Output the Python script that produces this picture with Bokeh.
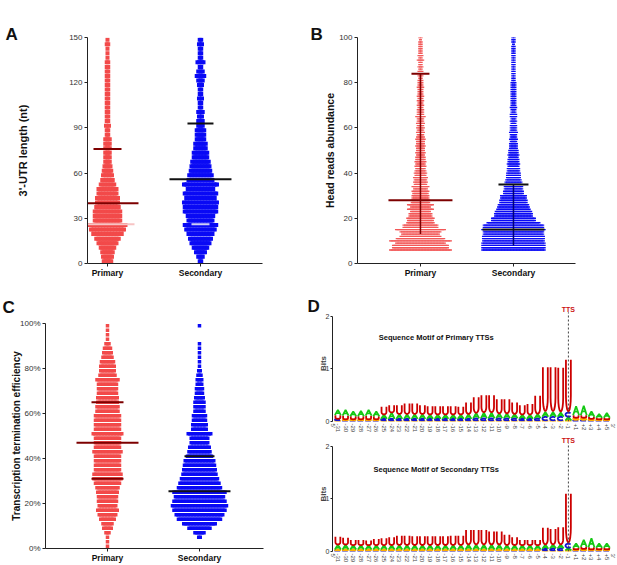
import numpy as np
from bokeh.plotting import figure
from bokeh.models import FixedTicker, Label, Range1d, Title
from bokeh.layouts import row, column
from bokeh.embed import file_html
from bokeh.resources import INLINE

FONT = "Liberation Sans"
RED = "#f24a4a"
BLUE = "#0a0af5"
DARKRED = "#7d0000"
BLACK = "#111111"
NAVY = "#00007a"

categories = ["Primary", "Secondary"]

# ---------------- Panel A : 3'-UTR length (3-nt bins) ----------------
a_bins = [1.5, 4.5, 7.5, 10.5, 13.5, 16.5, 19.5, 22.5, 25.5, 28.5,
          31.5, 34.5, 37.5, 40.5, 43.5, 46.5, 49.5, 52.5, 55.5, 58.5,
          61.5, 64.5, 67.5, 70.5, 73.5, 76.5, 79.5, 82.5, 85.5, 88.5,
          91.5, 94.5, 97.5, 100.5, 103.5, 106.5, 109.5, 112.5, 115.5, 118.5,
          121.5, 124.5, 127.5, 130.5, 133.5, 136.5, 139.5, 142.5, 145.5, 148.5]
a_primary_counts = [6, 7, 8, 10, 13, 16, 20, 23, 25, 18,
                    18, 18, 16, 15, 15, 13, 13, 10, 8, 7,
                    6, 5, 4, 4, 4, 4, 4, 4, 2, 2,
                    3, 2, 2, 2, 2, 2, 2, 2, 2, 2,
                    2, 2, 2, 2, 2, 1, 1, 1, 2, 1]
a_secondary_counts = [2, 4, 7, 10, 13, 15, 17, 20, 22, 17,
                      18, 22, 22, 23, 20, 22, 18, 23, 17, 16,
                      14, 13, 12, 10, 10, 8, 8, 6, 6, 6,
                      4, 4, 3, 4, 2, 2, 3, 2, 2, 3,
                      4, 6, 4, 2, 5, 2, 2, 2, 3, 2]
a_primary_stats = [40, 76, 26]     # median, upper, lower
a_secondary_stats = [56, 93, 26]

# ---------------- Panel B : head reads abundance (integer rows) ----------------
b_values = list(range(6, 101))
b_primary_counts = [41, 37, 37, 33, 41, 32, 27, 25, 27, 33, 23, 23, 18, 17, 18, 15, 15, 13, 17, 13,
                    17, 12, 12, 11, 11, 10, 11, 9, 11, 8, 9, 8, 9, 7, 8,
                    7, 6, 7, 6, 7, 6, 6, 5, 6, 5, 5, 6, 5, 5, 6, 5, 4, 5, 4, 5,
                    4, 5, 4, 4, 6, 4, 4, 4, 3, 4, 3, 4, 3, 4, 3, 3, 3, 4, 3, 3,
                    3, 2, 3, 2, 3, 2, 3, 2, 2, 4, 2, 3, 2, 2, 2, 2, 2, 2, 1, 2]
b_secondary_counts = [42, 42, 42, 42, 41, 41, 41, 40, 40, 42, 40, 40, 35, 29, 29, 25, 25, 24, 22, 21,
                      20, 18, 18, 17, 17, 13, 13, 12, 12, 11, 11, 10, 9, 9, 9,
                      8, 8, 7, 8, 7, 7, 6, 7, 6, 6, 5, 5, 5, 4, 5, 4, 4, 5, 4, 4,
                      4, 3, 4, 3, 4, 4, 3, 3, 4, 3, 3, 3, 3, 3, 3, 3, 3, 3, 3, 3,
                      2, 2, 2, 2, 2, 2, 2, 2, 2, 2, 2, 2, 2, 2, 2, 2, 1, 2, 2, 2]
b_primary_stats = [28, 84, 13]
b_secondary_stats = [15, 35, 8]

# ---------------- Panel C : termination efficiency (2 % bins) ----------------
c_bins = [1, 3, 5, 7, 9, 11, 13, 15, 17, 19, 21, 23, 25, 27, 29, 31, 33, 35, 37, 39,
          41, 43, 45, 47, 49, 51, 53, 55, 57, 59, 61, 63, 65, 67, 69, 71, 73, 75, 77, 79,
          81, 83, 85, 87, 89, 91, 93, 95, 97, 99]
c_primary_counts = [1, 1, 1, 3, 6, 7, 10, 12, 14, 12,
                    13, 13, 14, 15, 17, 19, 19, 17, 17, 17,
                    17, 19, 17, 17, 17, 20, 17, 17, 17, 17,
                    15, 15, 14, 14, 13, 13, 13, 15, 11, 10,
                    10, 9, 7, 6, 5, 3, 1, 1, 1, 1]
c_secondary_counts = [0, 0, 2, 7, 15, 22, 29, 32, 35, 37,
                      35, 33, 35, 29, 27, 25, 23, 22, 21, 20,
                      17, 15, 14, 12, 12, 16, 10, 10, 9, 9,
                      7, 7, 7, 6, 5, 5, 4, 4, 3, 2,
                      1, 1, 1, 1, 1, 1, 0, 0, 0, 1]
c_primary_stats = [47, 65, 31]
c_secondary_stats = [25.5, 41]

# ---------------- Panel D : sequence logos (bits) ----------------
d_positions = ["-31", "-30", "-29", "-28", "-27", "-26", "-25", "-24", "-23", "-22",
               "-21", "-20", "-19", "-18", "-17", "-16", "-15", "-14", "-13", "-12",
               "-11", "-10", "-9", "-8", "-7", "-6", "-5", "-4", "-3", "-2", "-1",
               "+1", "+2", "+3", "+4", "+5"]
prim_U = [0.07, 0.07, 0.06, 0.06, 0.07, 0.06, 0.15, 0.14, 0.17, 0.20, 0.20, 0.17, 0.16, 0.16, 0.16, 0.16,
          0.15, 0.22, 0.30, 0.33, 0.33, 0.27, 0.27, 0.22, 0.18, 0.20, 0.35, 0.85, 0.85, 0.85, 1.00,
          0.05, 0.05, 0.04, 0.03, 0.03]
prim_A = [0.10, 0.11, 0.09, 0.10, 0.11, 0.09, 0.08, 0.12, 0.09, 0.09, 0.09, 0.09, 0.08, 0.08, 0.08, 0.08,
          0.08, 0.09, 0.10, 0.11, 0.11, 0.09, 0.09, 0.08, 0.08, 0.08, 0.08, 0.09, 0.09, 0.08, 0.07,
          0.17, 0.18, 0.10, 0.07, 0.09]
prim_C = [0.03, 0.02, 0.02, 0.02, 0.02, 0.02, 0.03, 0.03, 0.03, 0.03, 0.03, 0.03, 0.03, 0.03, 0.03, 0.03,
          0.03, 0.03, 0.04, 0.04, 0.04, 0.04, 0.04, 0.04, 0.03, 0.03, 0.04, 0.07, 0.07, 0.07, 0.08,
          0.03, 0.03, 0.02, 0.02, 0.02]
prim_G = [0.02, 0.02, 0.02, 0.02, 0.02, 0.02, 0.02, 0.02, 0.02, 0.02, 0.02, 0.02, 0.02, 0.02, 0.02, 0.02,
          0.02, 0.02, 0.02, 0.02, 0.02, 0.02, 0.02, 0.02, 0.02, 0.02, 0.02, 0.02, 0.02, 0.02, 0.02,
          0.04, 0.04, 0.03, 0.02, 0.02]
sec_U = [0.15, 0.13, 0.10, 0.10, 0.09, 0.12, 0.13, 0.15, 0.18, 0.18, 0.17, 0.17, 0.17, 0.17, 0.17, 0.18,
         0.18, 0.28, 0.28, 0.28, 0.25, 0.25, 0.20, 0.15, 0.10, 0.10, 0.10, 0.32, 0.30, 0.33, 0.95,
         0.03, 0.04, 0.04, 0.03, 0.03]
sec_A = [0.09, 0.09, 0.08, 0.08, 0.08, 0.08, 0.08, 0.08, 0.08, 0.08, 0.08, 0.08, 0.08, 0.08, 0.08, 0.08,
         0.08, 0.09, 0.09, 0.09, 0.09, 0.09, 0.08, 0.08, 0.08, 0.08, 0.08, 0.08, 0.07, 0.07, 0.05,
         0.08, 0.13, 0.17, 0.08, 0.08]
sec_C = [0.02, 0.02, 0.02, 0.02, 0.02, 0.02, 0.02, 0.02, 0.02, 0.02, 0.02, 0.02, 0.02, 0.02, 0.02, 0.02,
         0.02, 0.02, 0.02, 0.02, 0.02, 0.02, 0.02, 0.02, 0.02, 0.02, 0.02, 0.03, 0.04, 0.04, 0.08,
         0.02, 0.02, 0.02, 0.02, 0.02]
sec_G = [0.02, 0.02, 0.02, 0.02, 0.02, 0.02, 0.02, 0.02, 0.02, 0.02, 0.02, 0.02, 0.02, 0.02, 0.02, 0.02,
         0.02, 0.02, 0.02, 0.02, 0.02, 0.02, 0.02, 0.02, 0.02, 0.02, 0.02, 0.02, 0.02, 0.02, 0.02,
         0.02, 0.03, 0.02, 0.02, 0.02]
tts_position = "-1"

for arr, ref in [(a_primary_counts, a_bins), (a_secondary_counts, a_bins),
                 (b_primary_counts, b_values), (b_secondary_counts, b_values),
                 (c_primary_counts, c_bins), (c_secondary_counts, c_bins)]:
    assert len(arr) == len(ref), (len(arr), len(ref))
for arr in [prim_U, prim_A, prim_C, prim_G, sec_U, sec_A, sec_C, sec_G]:
    assert len(arr) == len(d_positions)


# ---------------- helpers ----------------
def style_axes(p, tick_size="8px"):
    p.xgrid.visible = False
    p.ygrid.visible = False
    p.outline_line_color = None
    for ax in (p.xaxis[0], p.yaxis[0]):
        ax.axis_line_color = "#222222"
        ax.major_tick_line_color = "#222222"
        ax.minor_tick_line_color = None
        ax.major_tick_in = 0
        ax.major_tick_out = 3
        ax.minor_tick_out = 0
        ax.major_label_text_font = FONT
        ax.axis_label_text_font = FONT
    p.yaxis.major_label_text_font_size = tick_size
    p.yaxis.major_label_text_color = "#333333"
    p.yaxis.major_label_standoff = 2


def swarm_fig(width, height, bl, br, bt, bb, xr, yr, yticks, ylab, ylab_size, ylab_standoff, overrides=None):
    p = figure(width=width, height=height, x_range=Range1d(*xr), y_range=Range1d(*yr),
               output_backend="svg", toolbar_location=None,
               min_border_left=bl, min_border_right=br, min_border_top=bt, min_border_bottom=bb)
    style_axes(p)
    p.xaxis.ticker = FixedTicker(ticks=[1, 2])
    p.xaxis.major_label_overrides = {1: categories[0], 2: categories[1]}
    p.xaxis.major_label_text_font_size = "8.5px"
    p.xaxis.major_label_text_font_style = "bold"
    p.xaxis.major_label_text_color = "#111111"
    p.xaxis.major_label_standoff = 1
    p.yaxis.ticker = FixedTicker(ticks=yticks)
    if overrides:
        p.yaxis.major_label_overrides = overrides
    p.yaxis.axis_label = ylab
    p.yaxis.axis_label_text_font_size = ylab_size
    p.yaxis.axis_label_text_font_style = "bold"
    p.yaxis.axis_label_text_color = "#111111"
    p.yaxis.axis_label_standoff = ylab_standoff
    return p


def swarm(p, center, bins, counts, dx, color, marker, size, lw=1.5):
    xs, ys = [], []
    for v, n in zip(bins, counts):
        for j in range(n):
            xs.append(center + (j - (n - 1) / 2.0) * dx)
            ys.append(v)
    if marker == "dash":
        p.scatter(xs, ys, marker="dash", size=size, line_color=color, line_width=lw)
    else:
        p.scatter(xs, ys, marker="square", size=size, fill_color=color, line_color=None)


def hlines(p, center, vals, half_px, colors, ppu, lw=2):
    x0 = [center - h / ppu for h in half_px]
    x1 = [center + h / ppu for h in half_px]
    p.segment(x0=x0, y0=vals, x1=x1, y1=vals, line_color=colors, line_width=lw)


def letter_title(p, txt, offset, standoff, valign="bottom"):
    # panel letter drawn as a left-aligned title, nudged by its standoff
    p.add_layout(Title(text=txt, align="left", offset=offset, text_font=FONT, text_font_style="bold",
                       text_font_size="17px", text_color="#111111", standoff=standoff,
                       vertical_align=valign), "above")


# ---------------- Panel A ----------------
PPU_A = 93.0
pA = swarm_fig(300, 290, 87, 38, 37, 27, (0.785, 2.667), (0, 150), [0, 30, 60, 90, 120, 150],
               "3'-UTR length (nt)", "11px", 37)
swarm(pA, 1, a_bins, a_primary_counts, 1.5 / PPU_A, RED, "square", 4)
swarm(pA, 2, a_bins, a_secondary_counts, 1.5 / PPU_A, BLUE, "square", 4)
hlines(pA, 1, a_primary_stats, [31, 14, 27], [DARKRED, DARKRED, "#f7c4c4"], PPU_A)
hlines(pA, 2, a_secondary_stats, [31, 13, 9], [BLACK, BLACK, "#cfcff5"], PPU_A)
letter_title(pA, "A", -82, -12)

# ---------------- Panel B ----------------
PPU_B = 93.0
pB = swarm_fig(317, 290, 57, 42, 37, 27, (0.323, 2.667), (0, 100), [0, 20, 40, 60, 80, 100],
               "Head reads abundance", "10.5px", 0)
swarm(pB, 1, b_values, b_primary_counts, 1.5 / PPU_B, "#f25858", "dash", 3, 1.4)
swarm(pB, 2, b_values, b_secondary_counts, 1.5 / PPU_B, BLUE, "dash", 3, 1.4)
pB.segment(x0=[1], y0=[b_primary_stats[2]], x1=[1], y1=[b_primary_stats[1]], line_color=DARKRED, line_width=1.5)
pB.segment(x0=[2], y0=[b_secondary_stats[2]], x1=[2], y1=[b_secondary_stats[1]], line_color=NAVY, line_width=1.5)
hlines(pB, 1, b_primary_stats[:2], [32, 9], [DARKRED, DARKRED], PPU_B)
hlines(pB, 2, b_secondary_stats[:2], [31, 15], [BLACK, BLACK], PPU_B)
letter_title(pB, "B", -47, -12)

# ---------------- Panel C ----------------
PPU_C = 92.0
pC = swarm_fig(300, 275, 45, 37, 33, 17, (0.326, 2.696), (0, 100), [0, 20, 40, 60, 80, 100],
               "Transcription termination efficiency", "10px", -5,
               overrides={0: "0%", 20: "20%", 40: "40%", 60: "60%", 80: "80%", 100: "100%"})
swarm(pC, 1, c_bins, c_primary_counts, 1.5 / PPU_C, RED, "square", 3.5)
swarm(pC, 2, c_bins, c_secondary_counts, 1.5 / PPU_C, BLUE, "square", 3.5)
hlines(pC, 1, c_primary_stats, [31, 16, 16], [DARKRED, DARKRED, DARKRED], PPU_C)
hlines(pC, 2, c_secondary_stats, [31, 15], [BLACK, BLACK], PPU_C)
letter_title(pC, "C", -43, 10, valign="top")

# ---------------- Panel D ----------------
_t1 = np.linspace(np.pi, 2 * np.pi, 10)
_t2 = np.linspace(np.radians(40), np.radians(320), 16)
LETTER_SHAPES = {
    "U": [[(0.12, 1.0), (0.12, 0.32)] + [(0.5 + 0.38 * np.cos(t), 0.32 + 0.3 * np.sin(t)) for t in _t1]
          + [(0.88, 0.32), (0.88, 1.0)]],
    "A": [[(0.04, 0.0), (0.5, 1.0), (0.96, 0.0)], [(0.25, 0.4), (0.75, 0.4)]],
    "C": [[(0.5 + 0.45 * np.cos(t), 0.5 + 0.48 * np.sin(t)) for t in _t2]],
    "G": [[(0.5 + 0.45 * np.cos(t), 0.5 + 0.48 * np.sin(t)) for t in _t2]
          + [(0.95, 0.45), (0.6, 0.45)]],
}
LETTER_COLORS = {"U": "#cc0000", "A": "#14c814", "C": "#1414d2", "G": "#ffb000"}


def logo_fig(height, bt, bb, ytop, hU, hA, hC, hG, title, title_y, letter=None):
    p = figure(width=317, height=height, x_range=Range1d(0.3, 37.0), y_range=Range1d(0, ytop),
               output_backend="svg", toolbar_location=None,
               min_border_left=32, min_border_right=3, min_border_top=bt, min_border_bottom=bb)
    p.xgrid.visible = False
    p.ygrid.visible = False
    p.outline_line_color = None
    heights = {"U": hU, "A": hA, "C": hC, "G": hG}
    xs, ys, cols = [], [], []
    for i in range(len(d_positions)):
        k = i + 1
        stack = sorted([(heights[L][i], L) for L in "UACG"])
        y0 = 0.0
        for h, L in stack:
            for stroke in LETTER_SHAPES[L]:
                xs.append([k - 0.42 + px * 0.84 for px, py in stroke])
                ys.append([y0 + py * h for px, py in stroke])
                cols.append(LETTER_COLORS[L])
            y0 += h
    p.multi_line(xs, ys, line_color=cols, line_width=1.8)
    kt = d_positions.index(tts_position) + 1
    p.segment(x0=[kt], y0=[0], x1=[kt], y1=[2.07], line_color="#444444", line_width=1, line_dash="2 2")
    p.add_layout(Label(x=kt, y=2.12, text="TTS", text_font=FONT, text_font_style="bold",
                       text_font_size="7px", text_color="#cc1111", text_align="center",
                       text_baseline="middle"))
    p.add_layout(Label(x=13.8, y=title_y, text=title, text_font=FONT, text_font_style="bold",
                       text_font_size="7.5px", text_color="#111111", text_align="center",
                       text_baseline="middle"))
    ticks = [0.35] + list(range(1, len(d_positions) + 1)) + [36.78]
    over = {0.35: "5'", 36.78: "3'"}
    for i, lab in enumerate(d_positions):
        over[i + 1] = lab
    xa = p.xaxis[0]
    xa.ticker = FixedTicker(ticks=ticks)
    xa.major_label_overrides = over
    xa.major_label_orientation = -np.pi / 2
    xa.major_label_text_font = FONT
    xa.major_label_text_font_size = "6px"
    xa.major_label_text_color = "#444444"
    xa.major_label_standoff = 2
    xa.axis_line_color = None
    xa.major_tick_line_color = None
    xa.minor_tick_line_color = None
    xa.major_tick_out = 0
    xa.major_tick_in = 0
    xa.minor_tick_out = 0
    xa.minor_tick_in = 0
    ya = p.yaxis[0]
    ya.ticker = FixedTicker(ticks=[0, 1, 2])
    ya.bounds = (0, 2)
    ya.axis_line_color = "#222222"
    ya.major_tick_line_color = "#222222"
    ya.minor_tick_line_color = None
    ya.major_tick_in = 0
    ya.major_tick_out = 2
    ya.minor_tick_out = 0
    ya.major_label_text_font = FONT
    ya.major_label_text_font_size = "7px"
    ya.major_label_text_color = "#333333"
    ya.major_label_standoff = 1
    ya.axis_label = "Bits"
    ya.axis_label_text_font = FONT
    ya.axis_label_text_font_style = "bold"
    ya.axis_label_text_font_size = "8px"
    ya.axis_label_standoff = -5
    if letter:
        letter_title(p, letter, -25, -20)
    return p


pD1 = logo_fig(145, 15, 14, 2.2, prim_U, prim_A, prim_C, prim_G,
               "Sequence Motif of Primary TTSs", 1.6, "D")
pD2 = logo_fig(130, 1, 14, 2.19, sec_U, sec_A, sec_C, sec_G,
               "Sequence Motif of Secondary TTSs", 1.57)

layout = column(row(pA, pB), row(pC, column(pD1, pD2)))
open("out.html", "w").write(file_html(layout, INLINE))
